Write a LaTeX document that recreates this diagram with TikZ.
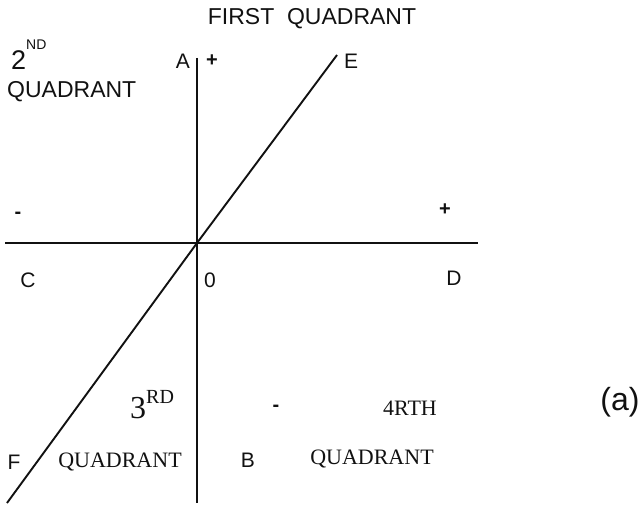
\documentclass[tikz,border=0pt]{standalone}
\usepackage{fontspec}
\setmainfont{Liberation Serif}
\setsansfont{Liberation Sans}
\usepackage{tikz}
\usetikzlibrary{positioning}
\definecolor{ink}{HTML}{111111}
\tikzset{
  axisline/.style={draw=ink,line width=2.2pt},
  diagline/.style={draw=ink,line width=1.9pt},
  ptlabel/.style={inner sep=0pt,text=ink,font=\sffamily\fontsize{21}{21}\selectfont},
  sign/.style={inner sep=0pt,text=ink,font=\sffamily\bfseries\fontsize{20}{20}\selectfont},
  sanstag/.style={inner sep=0pt,text=ink,font=\sffamily\fontsize{23}{23}\selectfont},
  seriftag/.style={inner sep=0pt,text=ink,font=\rmfamily\fontsize{22}{22}\selectfont}
}

\begin{document}
\begin{tikzpicture}[x=1pt,y=1pt]
  \useasboundingbox (0,0) rectangle (642,506);
  % axes and the line through the origin
  \coordinate (O) at (197,263);
  \coordinate (ytop) at (197,448);
  \coordinate (ybot) at (197,3);
  \coordinate (xleft) at (5,263);
  \coordinate (xright) at (478,263);
  \coordinate (etop) at (337,451);
  \coordinate (fbot) at (7,3);
  \draw[axisline] (ytop) -- (ybot);
  \draw[axisline] (xleft) -- (xright);
  \draw[diagline] (fbot) -- (O) -- (etop);
  % point labels
  \foreach \nm/\x/\y in {A/183/445,E/351/445,C/28/226,0/210/226,D/454/228,F/14/44,B/248/46}{
    \node[ptlabel] (\nm) at (\x,\y) {\nm};
  }
  \node[sign] (yplus) at (212,445) {+};
  \node[sign] (xminus) at (18,291) {-};
  \node[sign] (xplus) at (445,296) {+};
  \node[sign] (yminus) at (276,98) {-};
  % quadrant names
  \node[sanstag] (q1) at (312,487) {FIRST~~QUADRANT};
  \node[sanstag,anchor=base west] (q2num) at (11,436)
    {{\fontsize{27}{27}\selectfont 2}\raisebox{20pt}{\fontsize{14}{14}\selectfont ND}};
  \node[sanstag,anchor=west] (q2) at (7,414) {QUADRANT};
  \node[seriftag,anchor=base west] (q3num) at (130,88)
    {{\fontsize{32}{32}\selectfont 3}\raisebox{15pt}{\fontsize{20}{20}\selectfont RD}};
  \node[seriftag] (q3) at (120,44) {QUADRANT};
  \node[seriftag] (q4num) at (410,98) {4RTH};
  \node[seriftag] (q4) at (372,47) {QUADRANT};
  \node[sanstag,font=\sffamily\fontsize{32}{32}\selectfont] (cap) at (620,104) {(a)};
\end{tikzpicture}
\end{document}
